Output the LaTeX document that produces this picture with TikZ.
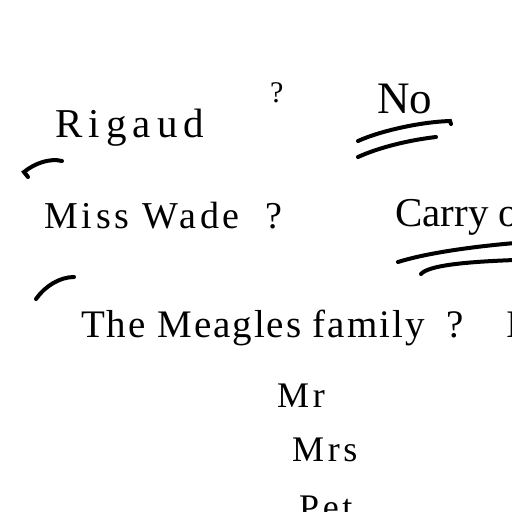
\documentclass[tikz,border=0pt]{standalone}
\usepackage{fontspec}
\setmainfont{Liberation Serif}
\newfontfamily\tight[LetterSpace=5]{Liberation Serif}
\newfontfamily\wide[LetterSpace=10]{Liberation Serif}
\newfontfamily\wider[LetterSpace=15]{Liberation Serif}
\newcommand{\fsz}[1]{\fontsize{#1}{#1}\selectfont}

\begin{document}
\begin{tikzpicture}[
    x=1pt, y=-1pt,
    % Styles
    word/.style={% For the written names
        anchor=base west,
        inner sep=0pt,
        },
    brush/.style={% For the pen strokes
        line width=4pt,
        line cap=round,
        },
    ]
    \useasboundingbox (0,0) rectangle (512,512);
    \clip (0,0) rectangle (512,512);

    % Top row
    \node[word, font=\wider\fsz{41}] (rigaud) at (55,137) {Rigaud};
    \node[word, font=\fsz{30}] (q_top) at (270,102) {?};
    \node[word, font=\fsz{45}] (no) at (377,113) {No};

    % Second row
    \node[word, font=\wide\fsz{38}] (wade) at (44,228) {Miss Wade};
    \node[word, font=\fsz{38}] (q_wade) at (265,228) {?};
    \node[word, font=\fsz{41}] (carry) at (395,226) {Carry on};

    % Third row
    \node[word, font=\tight\fsz{39}] (meagles) at (81,337) {The Meagles family};
    \node[word, font=\fsz{39}] (q_meagles) at (446,337) {?};
    \node[word, font=\fsz{39}] (cut) at (506,337) {I};

    % The family
    \node[word, font=\wide\fsz{36}] (mr) at (277,407) {Mr};
    \node[word, font=\wide\fsz{36}] (mrs) at (292,461) {Mrs};
    \node[word, font=\wide\fsz{36}] (pet) at (299,519) {Pet};

    % Underlines of No
    \draw[brush] (358,141) .. controls (380,131) and (420,122) .. (450,121) -- (451,124);
    \draw[brush] (358,157) .. controls (380,147) and (410,140) .. (436,137);

    % Underlines of Carry on
    \draw[brush] (398,262) .. controls (430,252) and (480,246) .. (515,243);
    \draw[brush] (421,274) .. controls (428,266) and (460,262) .. (515,260);

    % Ticks on the left
    \draw[brush] (28,177) -- (24,172) .. controls (35,163) and (50,158) .. (62,161);
    \draw[brush] (36,299) .. controls (45,286) and (60,277) .. (74,277);
\end{tikzpicture}
\end{document}
